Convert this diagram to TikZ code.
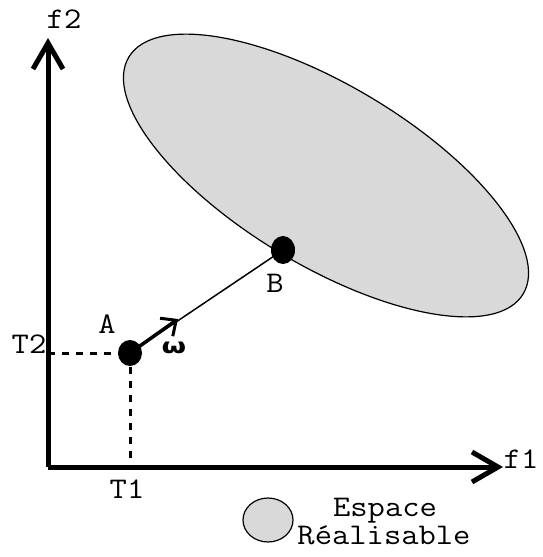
\documentclass[tikz,border=0pt]{standalone}
\usepackage{fontspec}
\newfontfamily\omegafont{DejaVu Sans}
\usetikzlibrary{arrows.meta}
\newcommand{\cour}[1]{\scalebox{1.12}[1]{#1}}
\begin{document}
\begin{tikzpicture}[x=1pt,y=-1pt,
  lbl/.style={font=\ttfamily\addfontfeatures{FakeBold=0.6}\fontsize{30}{32}\selectfont, inner sep=0pt, anchor=base},
  axis/.style={line width=5pt, -{Straight Barb[length=26pt,width=30pt,line width=5pt]}},
  guide/.style={line width=3pt, dash pattern=on 7pt off 7pt}]
\useasboundingbox (0,0) rectangle (542,557);
\fill[white] (0,0) rectangle (542,557);
% feasible region
\draw[fill=black!15, line width=1.2pt] (326,175.5) ellipse[x radius=230, y radius=90, rotate=-31];
% axes
\coordinate (O) at (48,467);
\coordinate (Y) at (48,38);
\coordinate (X) at (503,467);
\draw[axis] (O) -- (Y);
\draw[axis] (O) -- (X);
% points
\coordinate (A) at (130,353);
\coordinate (B) at (283,250);
\coordinate (T2p) at (48,353);
\coordinate (T1p) at (130,467);
\draw[guide] (T2p) -- (A);
\draw[guide] (A) -- (T1p);
\coordinate (W) at (178,319);
\draw[line width=1.5pt] (A) -- (B);
\draw[line width=3.5pt, -{Straight Barb[length=12pt,width=22pt,line width=3pt]}] (A) -- (W);
\fill (A) ellipse[x radius=12, y radius=13];
\fill (B) ellipse[x radius=12, y radius=14];
% labels
\node[lbl] (lf2) at (64,28) {\cour{f2}};
\node[lbl] (lf1) at (521,468) {\cour{f1}};
\node[lbl] (lT2) at (29,353) {\cour{T2}};
\node[lbl] (lT1) at (127,498) {\cour{T1}};
\node[lbl] (lA) at (107,333) {\cour{A}};
\node[lbl] (lB) at (275,292) {\cour{B}};
\node[inner sep=0pt, font=\omegafont\bfseries\fontsize{21}{24}\selectfont] (lw) at (174,348) {\scalebox{1.35}[1]{ω}};
% legend
\draw[fill=black!15, line width=1.2pt] (268,520) ellipse[x radius=25, y radius=22];
\node[lbl] (l1) at (385,516) {\cour{Espace}};
\node[lbl] (l2) at (384,544) {\cour{Réalisable}};
\end{tikzpicture}
\end{document}
